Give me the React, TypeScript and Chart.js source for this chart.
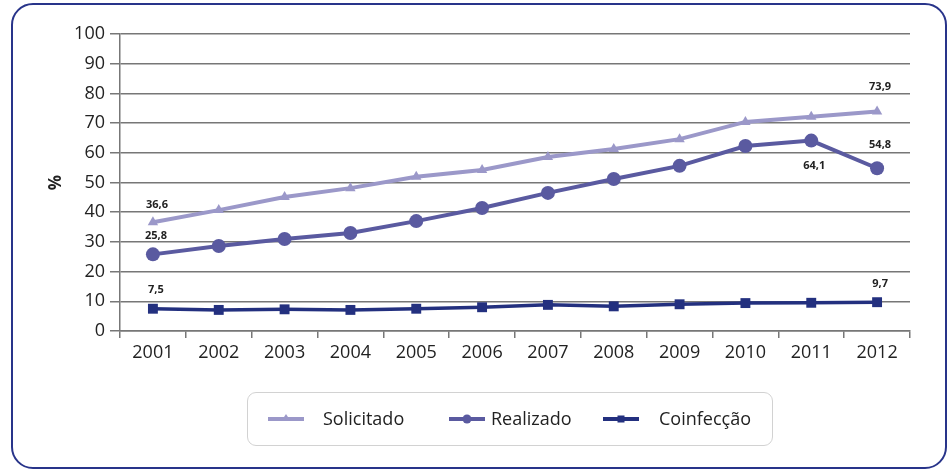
import React, { useEffect, useRef } from "react";
import { Chart, registerables } from "chart.js";

Chart.register(...registerables);

const years = ["2001", "2002", "2003", "2004", "2005", "2006", "2007", "2008", "2009", "2010", "2011", "2012"];
const solicitado = [36.6, 40.7, 45.1, 48.1, 51.9, 54.2, 58.6, 61.3, 64.6, 70.4, 72.1, 73.9];
const realizado = [25.8, 28.6, 31.0, 33.0, 37.0, 41.4, 46.5, 51.2, 55.6, 62.3, 64.1, 54.8];
const coinfeccao = [7.5, 7.1, 7.3, 7.1, 7.5, 8.0, 8.8, 8.3, 9.0, 9.4, 9.5, 9.7];
const solicitadoLabels = ["36,6", null, null, null, null, null, null, null, null, null, null, "73,9"];
const realizadoLabels = ["25,8", null, null, null, null, null, null, null, null, null, "64,1", "54,8"];
const coinfeccaoLabels = ["7,5", null, null, null, null, null, null, null, null, null, null, "9,7"];
const seriesNames = ["Solicitado", "Realizado", "Coinfecção"];
const colors = ["#9b98c9", "#5a5aa0", "#23307f"];

const FONT = "'Open Sans', 'Noto Sans', sans-serif";

// label offsets (dx, dy) relative to the point, per dataset
const labelOffsets: Record<string, [number, number]> = {
  "0-0": [4, -17],
  "0-11": [3, -25],
  "1-0": [3, -19],
  "1-10": [3, 25],
  "1-11": [3, -23],
  "2-0": [3, -19],
  "2-11": [3, -18],
};

const dataLabelPlugin = {
  id: "dataLabels",
  afterDatasetsDraw(chart: any) {
    const ctx = chart.ctx;
    const allLabels = [solicitadoLabels, realizadoLabels, coinfeccaoLabels];
    ctx.save();
    ctx.font = `bold 11px ${FONT}`;
    ctx.fillStyle = "#222";
    ctx.textAlign = "center";
    ctx.textBaseline = "middle";
    allLabels.forEach((labels, di) => {
      const meta = chart.getDatasetMeta(di);
      labels.forEach((t, i) => {
        if (!t) return;
        const el = meta.data[i];
        const off = labelOffsets[`${di}-${i}`] || [0, -18];
        ctx.fillText(t, el.x + off[0], el.y + off[1]);
      });
    });
    ctx.restore();
  },
};

function LegendSymbol({ color, kind }: { color: string; kind: string }) {
  return (
    <svg width={36} height={14} style={{ display: "block" }}>
      <line x1={0} y1={7} x2={36} y2={7} stroke={color} strokeWidth={4} />
      {kind === "triangle" && <polygon points="18,2 22.5,9 13.5,9" fill={color} />}
      {kind === "circle" && <circle cx={18} cy={7} r={4.5} fill={color} />}
      {kind === "rect" && <rect x={14.5} y={3.5} width={7} height={7} fill={color} />}
    </svg>
  );
}

export default function App() {
  const canvasRef = useRef<HTMLCanvasElement | null>(null);

  useEffect(() => {
    if (!canvasRef.current) return;
    const chart = new Chart(canvasRef.current, {
      type: "line",
      data: {
        labels: years,
        datasets: [
          {
            label: seriesNames[0],
            data: solicitado,
            borderColor: colors[0],
            backgroundColor: colors[0],
            borderWidth: 4,
            pointStyle: "triangle",
            pointRadius: 6,
            pointBorderWidth: 0,
            tension: 0,
          },
          {
            label: seriesNames[1],
            data: realizado,
            borderColor: colors[1],
            backgroundColor: colors[1],
            borderWidth: 4,
            pointStyle: "circle",
            pointRadius: 7,
            pointBorderWidth: 0,
            tension: 0,
          },
          {
            label: seriesNames[2],
            data: coinfeccao,
            borderColor: colors[2],
            backgroundColor: colors[2],
            borderWidth: 3.5,
            pointStyle: "rect",
            pointRadius: 7,
            pointBorderWidth: 0,
            tension: 0,
          },
        ],
      },
      options: {
        responsive: false,
        animation: false,
        devicePixelRatio: 1,
        layout: { padding: { left: 0, right: 38, top: 34, bottom: 0 } },
        plugins: {
          legend: { display: false },
          tooltip: { enabled: false },
        },
        scales: {
          x: {
            offset: true,
            grid: {
              offset: true,
              drawOnChartArea: false,
              color: "#777",
              lineWidth: 1.5,
              tickLength: 7,
            },
            border: { color: "#777", width: 1.5 },
            ticks: {
              color: "#222",
              font: { family: FONT, size: 18 },
              padding: 4,
              maxRotation: 0,
            },
            afterFit(scale: any) {
              scale.height = 140;
            },
          },
          y: {
            min: 0,
            max: 100,
            ticks: {
              stepSize: 10,
              color: "#222",
              font: { family: FONT, size: 18 },
              padding: 5,
            },
            grid: {
              color: "#777",
              lineWidth: 1.5,
              tickLength: 10,
            },
            border: { color: "#777", width: 1.5 },
            title: {
              display: true,
              text: "%",
              color: "#222",
              font: { family: FONT, size: 17, weight: "bold" },
              padding: { top: 46, bottom: 0 },
            },
            afterFit(scale: any) {
              scale.width = 120;
            },
          },
        },
      },
      plugins: [dataLabelPlugin],
    } as any);
    return () => chart.destroy();
  }, []);

  const legendItems = [
    { name: seriesNames[0], color: colors[0], kind: "triangle", sx: 268, tx: 323 },
    { name: seriesNames[1], color: colors[1], kind: "circle", sx: 449, tx: 491 },
    { name: seriesNames[2], color: colors[2], kind: "rect", sx: 603, tx: 659 },
  ];

  return (
    <div style={{ position: "absolute", left: 0, top: 0, width: 948, height: 471, background: "#fff", overflow: "hidden", fontFamily: FONT }}>
      <div
        style={{
          position: "absolute",
          left: 11,
          top: 3,
          width: 936,
          height: 466,
          boxSizing: "border-box",
          border: "2.5px solid #28348a",
          borderRadius: 22,
        }}
      />
      <canvas ref={canvasRef} width={948} height={471} style={{ position: "absolute", left: 0, top: 0, width: 948, height: 471 }} />
      <div
        style={{
          position: "absolute",
          left: 247,
          top: 392,
          width: 526,
          height: 54,
          boxSizing: "border-box",
          border: "1.5px solid #d2d2d2",
          borderRadius: 9,
        }}
      />
      {legendItems.map((it) => (
        <React.Fragment key={it.name}>
          <div style={{ position: "absolute", left: it.sx, top: 412 }}>
            <LegendSymbol color={it.color} kind={it.kind} />
          </div>
          <div style={{ position: "absolute", left: it.tx, top: 406, fontSize: 18, lineHeight: "25px", color: "#222", whiteSpace: "nowrap" }}>
            {it.name}
          </div>
        </React.Fragment>
      ))}
    </div>
  );
}
